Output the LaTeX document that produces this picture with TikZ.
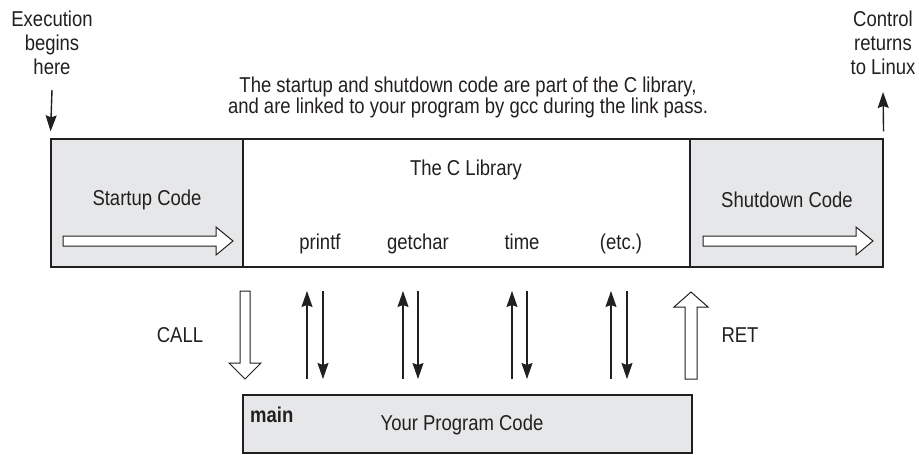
\documentclass[tikz,border=0pt]{standalone}
\usepackage{fontspec}
\setmainfont{Liberation Sans}[FakeStretch=0.86]
\usetikzlibrary{arrows.meta}
\definecolor{boxgray}{HTML}{E6E7E8}
\definecolor{ink}{HTML}{231F20}
\begin{document}
\begin{tikzpicture}[x=1pt,y=-1pt,
  lbl/.style={font=\fontsize{21.5}{24}\selectfont, text=ink, inner sep=0pt, align=center},
  blk/.style={draw=ink, line width=1.3pt, inner sep=0pt},
  graybox/.style={blk, fill=boxgray},
  hollow/.style={draw=ink, line width=1pt, fill=white, line join=miter},
  callarrow/.style={draw=ink, line width=1.4pt, -{Stealth[length=16pt,width=11pt,inset=2pt]}}]
\useasboundingbox (0,0) rectangle (919,455);
% boxes
\node[graybox, minimum width=192pt, minimum height=128pt] (start) at (147,203) {};
\node[blk, fill=white, minimum width=447pt, minimum height=128pt] (lib) at (466.5,203) {};
\node[graybox, minimum width=193pt, minimum height=128pt] (shut) at (786.5,203) {};
\node[graybox, minimum width=449pt, minimum height=58pt] (prog) at (467.5,424) {};
% texts
\node[lbl] (tstart) at (147,200) {Startup Code};
\node[lbl] (tshut) at (787,200) {Shutdown Code};
\node[lbl] (tlib) at (466,170) {The C Library};
\node[lbl, anchor=base] (tprintf) at (320,249) {printf};
\node[lbl, anchor=base] (tgetchar) at (418,249) {getchar};
\node[lbl, anchor=base] (ttime) at (522,249) {time};
\node[lbl, anchor=base] (tetc) at (621,249) {(etc.)};
\node[lbl, font=\fontsize{21.5}{21}\selectfont] (note) at (468,97) {The startup and shutdown code are part of the C library,\\and are linked to your program by gcc during the link pass.};
\node[lbl] (exec) at (52,43) {Execution\\begins\\here};
\node[lbl] (ctrl) at (883,43) {Control\\returns\\to Linux};
\node[lbl] (tcall) at (180,335) {CALL};
\node[lbl] (tret) at (740,335) {RET};
\node[lbl, font=\fontsize{21.5}{24}\selectfont\bfseries, anchor=west] (tmain) at (250,415) {main};
\node[lbl] (tprog) at (462,425) {Your Program Code};
% entry / exit arrows
\coordinate (e1) at (52,90);
\draw[callarrow, shorten >=7pt] (e1) -- (start.north west);
\coordinate (c1) at (883,92);
\draw[callarrow, shorten <=7pt] (shut.north east) -- (c1);
% hollow right arrows
\draw[hollow] (63,236) -- (216,236) -- (216,227) -- (233,241) -- (216,255) -- (216,246) -- (63,246) -- cycle;
\draw[hollow] (703,236) -- (856,236) -- (856,227) -- (873,241) -- (856,255) -- (856,246) -- (703,246) -- cycle;
% CALL arrow (down)
\draw[hollow] (240,291) -- (250,291) -- (250,363) -- (261,363) -- (245,379) -- (229,363) -- (240,363) -- cycle;
% RET arrow (up)
\draw[hollow] (685,379) -- (697,379) -- (697,307) -- (708,307) -- (691,292) -- (674,307) -- (685,307) -- cycle;
% call/return pairs
\foreach \u/\d/\n in {307/323/a,403/418/b,512/527/c,611/627/d}{
  \coordinate (up\n0) at (\u,379); \coordinate (up\n1) at (\u,291);
  \coordinate (dn\n0) at (\d,291); \coordinate (dn\n1) at (\d,379);
  \draw[callarrow] (up\n0) -- (up\n1);
  \draw[callarrow] (dn\n0) -- (dn\n1);
}
\end{tikzpicture}
\end{document}
